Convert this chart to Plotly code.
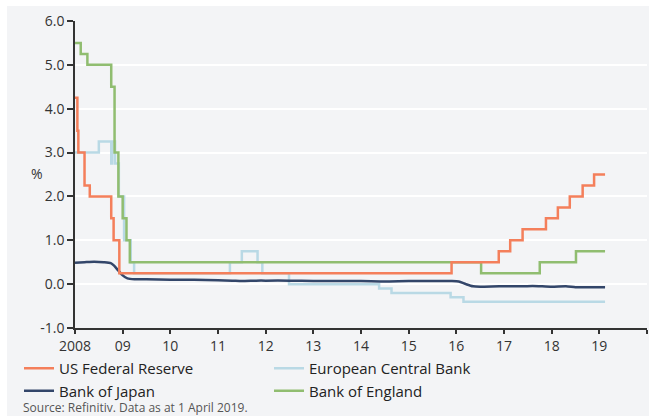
import plotly.graph_objects as go

# Policy rates, 2008 - early 2019 (decimal years, %)
fed_t = [2008.00, 2008.05, 2008.07, 2008.20, 2008.31, 2008.76, 2008.81, 2008.93,
         2015.90, 2016.89, 2017.13, 2017.39, 2017.88, 2018.13, 2018.38, 2018.65, 2018.89, 2019.12]
fed_v = [4.25, 3.50, 3.00, 2.25, 2.00, 1.50, 1.00, 0.25,
         0.50, 0.75, 1.00, 1.25, 1.50, 1.75, 2.00, 2.25, 2.50, 2.50]

ecb_t = [2008.00, 2008.50, 2008.76, 2008.78, 2008.84, 2008.92, 2009.03, 2009.17, 2009.24,
         2011.25, 2011.50, 2011.83, 2011.93, 2012.49, 2014.38, 2014.64, 2015.88, 2016.15, 2019.12]
ecb_v = [3.00, 3.25, 2.75, 3.25, 2.75, 2.00, 1.00, 0.50, 0.25,
         0.50, 0.75, 0.50, 0.25, 0.00, -0.10, -0.20, -0.30, -0.40, -0.40]

boj_t = [2008.00, 2008.20, 2008.40, 2008.60, 2008.75, 2008.82, 2008.90, 2009.00, 2009.10,
         2009.25, 2009.50, 2010.00, 2010.50, 2011.00, 2011.30, 2011.50, 2011.80, 2012.00,
         2012.50, 2013.00, 2013.50, 2014.00, 2014.50, 2015.00, 2015.50, 2015.90, 2016.05,
         2016.20, 2016.35, 2016.50, 2016.90, 2017.30, 2017.60, 2018.00, 2018.30, 2018.50,
         2018.80, 2019.12]
boj_v = [0.49, 0.50, 0.51, 0.50, 0.48, 0.42, 0.32, 0.20, 0.13,
         0.11, 0.11, 0.10, 0.10, 0.09, 0.08, 0.07, 0.08, 0.08,
         0.08, 0.07, 0.07, 0.07, 0.06, 0.07, 0.07, 0.07, 0.06,
         0.00, -0.05, -0.06, -0.05, -0.05, -0.04, -0.06, -0.05, -0.07,
         -0.07, -0.07]

boe_t = [2008.00, 2008.12, 2008.26, 2008.76, 2008.83, 2008.91, 2009.00, 2009.08, 2009.15,
         2016.52, 2017.75, 2018.51, 2019.12]
boe_v = [5.50, 5.25, 5.00, 4.50, 3.00, 2.00, 1.50, 1.00, 0.50,
         0.25, 0.50, 0.75, 0.75]

year_ticks = list(range(2008, 2021))
year_labels = ["2008", "09", "10", "11", "12", "13", "14", "15", "16", "17", "18", "19", ""]
pct_ticks = [-1, 0, 1, 2, 3, 4, 5, 6]
pct_labels = ["-1.0", "0.0", "1.0", "2.0", "3.0", "4.0", "5.0", "6.0"]

ORANGE = "#f47f5b"
LIGHTBLUE = "#b9d9e5"
NAVY = "#33466a"
GREEN = "#90bd70"
BG = "#f3f4f6"
FONT = "Open Sans"

fig = go.Figure()
# drawing order: ECB underneath, Fed on top; legendrank keeps the legend order
fig.add_trace(go.Scatter(x=ecb_t, y=ecb_v, name="European Central Bank", mode="lines",
                         legendrank=2, line=dict(color=LIGHTBLUE, width=2.5, shape="hv")))
fig.add_trace(go.Scatter(x=boj_t, y=boj_v, name="Bank of Japan", mode="lines",
                         legendrank=3,
                         line=dict(color=NAVY, width=2.5, shape="spline", smoothing=0.6)))
fig.add_trace(go.Scatter(x=boe_t, y=boe_v, name="Bank of England", mode="lines",
                         legendrank=4, line=dict(color=GREEN, width=2.5, shape="hv")))
fig.add_trace(go.Scatter(x=fed_t, y=fed_v, name="US Federal Reserve", mode="lines",
                         legendrank=1, line=dict(color=ORANGE, width=2.5, shape="hv")))

W, H = 649, 416
L, R, T, B = 75, 2, 21, 88
pw, ph = W - L - R, H - T - B


def px_x(p):
    return (p - L) / pw


def px_y(p):
    return (H - B - p) / ph


fig.update_layout(
    width=W, height=H,
    margin=dict(l=L, r=R, t=T, b=B, pad=0),
    paper_bgcolor="white",
    plot_bgcolor="rgba(0,0,0,0)",
    font=dict(family=FONT, color="#333333", size=14),
    showlegend=True,
    legend=dict(orientation="h", x=px_x(19), y=px_y(352), xanchor="left", yanchor="top",
                traceorder="normal", entrywidth=205, entrywidthmode="pixels",
                font=dict(size=15, color="#222222"), bgcolor="rgba(0,0,0,0)",
                tracegroupgap=0, itemwidth=30),
    xaxis=dict(range=[2008, 2020], tickvals=year_ticks, ticktext=year_labels,
               showgrid=False, zeroline=False, showline=True, linecolor="#333333",
               linewidth=1.5, ticks="outside", ticklen=4, tickcolor="#333333",
               tickwidth=1.5, tickfont=dict(size=14, color="#333333")),
    yaxis=dict(range=[-1, 6], tickvals=pct_ticks, ticktext=pct_labels, showgrid=True,
               gridcolor="white", gridwidth=1.5, zeroline=False, showline=True,
               linecolor="#333333", linewidth=1.5, ticks="outside", ticklen=6,
               tickcolor="#333333", tickwidth=1.5, tickfont=dict(size=14, color="#333333")),
    shapes=[dict(type="rect", xref="paper", yref="paper", layer="below",
                 x0=px_x(7), x1=px_x(649), y0=px_y(420), y1=px_y(6),
                 fillcolor=BG, line=dict(width=0))],
    annotations=[
        dict(text="%", xref="paper", yref="paper", x=px_x(29), y=px_y(173),
             showarrow=False, font=dict(size=14, color="#333333")),
        dict(text="Source: Refinitiv. Data as at 1 April 2019.", xref="paper", yref="paper",
             x=px_x(21), y=px_y(407), xanchor="left", yanchor="middle", showarrow=False,
             font=dict(size=12, color="#555555")),
    ],
)

fig.write_html("out.html")
